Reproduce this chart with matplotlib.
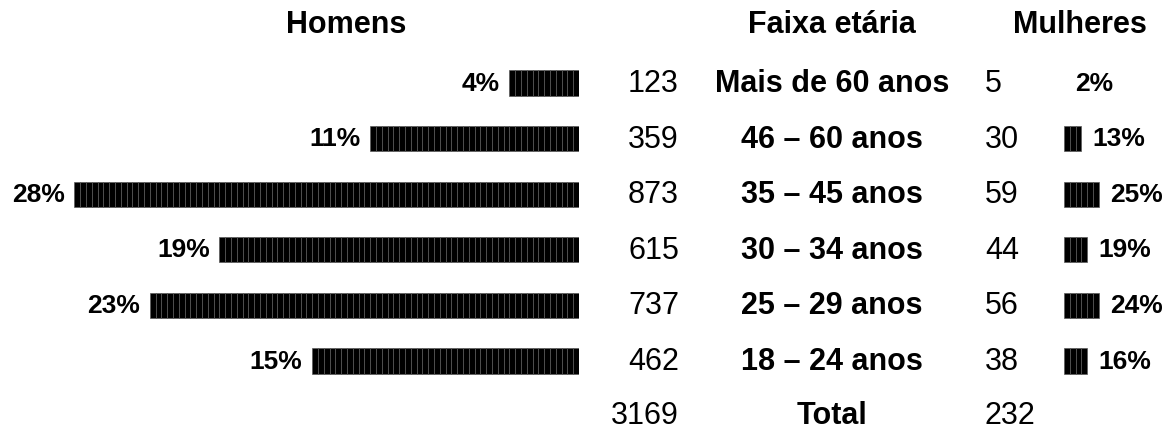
import matplotlib
matplotlib.use("Agg")
import matplotlib.pyplot as plt
import numpy as np

plt.rcParams['font.family'] = ['Liberation Sans', 'DejaVu Sans']

faixas = ["Mais de 60 anos", "46 – 60 anos", "35 – 45 anos", "30 – 34 anos", "25 – 29 anos", "18 – 24 anos"]
homens = [123, 359, 873, 615, 737, 462]
mulheres = [5, 30, 59, 44, 56, 38]
total_homens = 3169
total_mulheres = 232
unidade = 10  # cada bloquinho vale 10 pessoas

W, H = 1170, 430
escala = 0.58       # px por pessoa
y0, passo = 83, 55.6  # centro da primeira linha e espaco entre linhas (px)

fig = plt.figure(figsize=(W / 100, H / 100), dpi=100)

# eixo em pixels para os textos
ax = fig.add_axes([0, 0, 1, 1])
ax.set_xlim(0, W)
ax.set_ylim(H, 0)
ax.axis("off")

ylim = ((H - y0) / passo, -y0 / passo)

# barras dos homens (crescem para a esquerda a partir de x=579)
x_fim_h = 579
ax_h = fig.add_axes([0, 0, x_fim_h / W, 1])
ax_h.set_xlim(x_fim_h / escala, 0)
ax_h.set_ylim(*ylim)
ax_h.axis("off")

# barras das mulheres (crescem para a direita a partir de x=1064)
x_ini_m = 1064
ax_m = fig.add_axes([x_ini_m / W, 0, (W - x_ini_m) / W, 1])
ax_m.set_xlim(0, (W - x_ini_m) / escala)
ax_m.set_ylim(*ylim)
ax_m.axis("off")


def blocos(eixo, valores, lado):
    for i, v in enumerate(valores):
        n = int(round(v / unidade))
        if n > 0:
            eixo.barh(np.full(n, i), unidade, left=np.arange(n) * unidade, height=0.45,
                      color="black", edgecolor="#5a5a5a", linewidth=0.5)
        pct = round(100 * v / sum(valores))
        if lado == "esq":
            eixo.annotate(f"{pct}%", xy=(n * unidade, i), xytext=(-7, -5.5), textcoords="offset points",
                          ha="right", va="baseline", fontsize=19, fontweight="bold")
        else:
            eixo.annotate(f"{pct}%", xy=(n * unidade, i), xytext=(8, -5.5), textcoords="offset points",
                          ha="left", va="baseline", fontsize=19, fontweight="bold")


blocos(ax_h, homens, "esq")
blocos(ax_m, mulheres, "dir")

# cabecalhos
ax.text(346, 33, "Homens", ha="center", va="baseline", fontsize=22, fontweight="bold")
ax.text(832, 33, "Faixa etária", ha="center", va="baseline", fontsize=22, fontweight="bold")
ax.text(1080, 33, "Mulheres", ha="center", va="baseline", fontsize=22, fontweight="bold")

for i in range(len(faixas)):
    yb = y0 + passo * i + 9
    ax.text(679, yb, str(homens[i]), ha="right", va="baseline", fontsize=22)
    ax.text(832, yb, faixas[i], ha="center", va="baseline", fontsize=22, fontweight="bold")
    ax.text(985, yb, str(mulheres[i]), ha="left", va="baseline", fontsize=22)

yb = y0 + passo * len(faixas) + 7
ax.text(679, yb, str(total_homens), ha="right", va="baseline", fontsize=22)
ax.text(832, yb, "Total", ha="center", va="baseline", fontsize=22, fontweight="bold")
ax.text(985, yb, str(total_mulheres), ha="left", va="baseline", fontsize=22)

fig.savefig("out.png", dpi=100)
